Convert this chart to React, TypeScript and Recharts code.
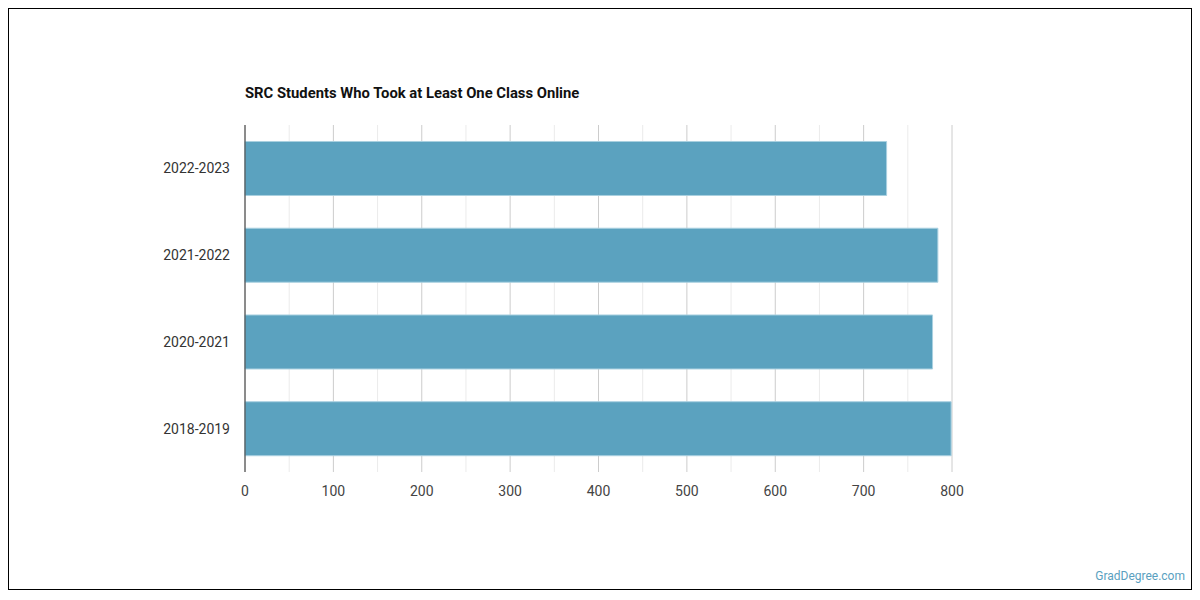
import { BarChart, Bar, XAxis, YAxis, CartesianGrid } from "recharts";

const years = ["2022-2023", "2021-2022", "2020-2021", "2018-2019"];
const students = [726, 784, 778, 799];
const majorTicks = [0, 100, 200, 300, 400, 500, 600, 700, 800];
const minorTicks = [50, 150, 250, 350, 450, 550, 650, 750];

const data = years.map((year, i) => ({ year, students: students[i] }));
const allTicks = [...majorTicks, ...minorTicks].sort((a, b) => a - b);

// even grid lines = hundreds (darker), odd = fifties (lighter)
const gridLine = (props: any) => (
  <line
    key={props.key ?? props.index}
    x1={props.x1}
    y1={props.y1}
    x2={props.x2}
    y2={props.y2}
    stroke={props.index % 2 === 0 ? "#cccccc" : "#ebebeb"}
    strokeWidth={1}
  />
);

export default function App() {
  return (
    <div
      style={{
        position: "relative",
        width: 1182,
        height: 580,
        border: "1px solid #000",
        fontFamily: "Roboto, sans-serif",
        background: "#fff",
      }}
    >
      <div
        style={{
          position: "absolute",
          left: 236,
          top: 76,
          fontSize: 14.8,
          fontWeight: 700,
          lineHeight: "17px",
          color: "#111",
        }}
      >
        SRC Students Who Took at Least One Class Online
      </div>
      <BarChart
        width={1182}
        height={580}
        data={data}
        layout="vertical"
        barCategoryGap="19%"
        margin={{ top: 116, right: 239, bottom: 87, left: 0 }}
      >
        <CartesianGrid horizontal={false} vertical={gridLine} />
        <XAxis
          type="number"
          domain={[0, 800]}
          ticks={allTicks}
          interval={0}
          tickFormatter={(v: number) => (majorTicks.includes(v) ? String(v) : "")}
          axisLine={false}
          tickLine={false}
          height={30}
          tickMargin={8}
          tick={{ fill: "#444", fontSize: 14 }}
        />
        <YAxis
          type="category"
          dataKey="year"
          width={236}
          axisLine={{ stroke: "#333" }}
          tickLine={false}
          tickMargin={9}
          tick={{ fill: "#333", fontSize: 14 }}
        />
        <Bar
          dataKey="students"
          fill="#5ba2bf"
          stroke="#a9d0e0"
          strokeWidth={1}
          isAnimationActive={false}
        />
      </BarChart>
      <div
        style={{
          position: "absolute",
          right: 6,
          bottom: 6,
          fontSize: 12,
          color: "#5a9fc0",
        }}
      >
        GradDegree.com
      </div>
    </div>
  );
}
